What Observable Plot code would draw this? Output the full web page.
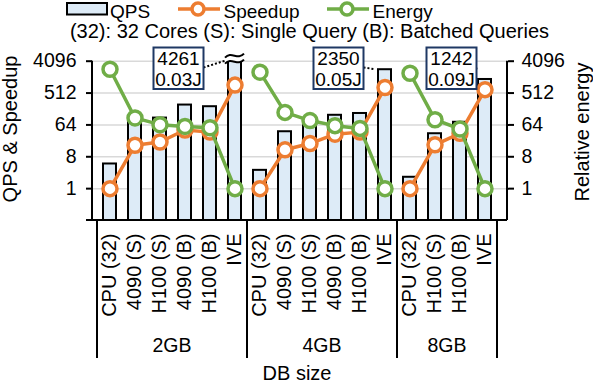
<!DOCTYPE html>
<html><head><meta charset="utf-8">
<script src="https://cdn.jsdelivr.net/npm/d3@7"></script>
<script src="https://cdn.jsdelivr.net/npm/@observablehq/plot@0.6"></script>
<style>
html,body{margin:0;padding:0;background:#fff;}
#chart svg{display:block;}
</style></head><body><div id="chart"></div>
<script>
// ---- data ----
const dbSizes = ["2GB", "4GB", "8GB"];
const configs = [
  ["CPU (32)", "4090 (S)", "H100 (S)", "4090 (B)", "H100 (B)", "IVE"],
  ["CPU (32)", "4090 (S)", "H100 (S)", "4090 (B)", "H100 (B)", "IVE"],
  ["CPU (32)", "H100 (S)", "H100 (B)", "IVE"]
];
const qps = [
  [5, 85, 100, 234, 210, 4261],
  [3.3, 41, 65, 120, 135, 2350],
  [2.1, 36, 76, 1242]
];
const speedup = [
  [1, 17, 21, 46, 40, 860],
  [1, 12.6, 19, 35, 40, 735],
  [1, 17.5, 37, 640]
];
const energy = [
  [2430, 101, 65, 58, 53, 1],
  [2000, 145, 85, 61, 51, 1],
  [1870, 90, 49, 1]
];
const yTicks = [1, 8, 64, 512, 4096];
const annQPS = ["4261", "2350", "1242"];
const annEnergy = ["0.03J", "0.05J", "0.09J"];
const subtitle = "(32): 32 Cores (S): Single Query (B): Batched Queries";

// ---- layout / style ----
const W = 593, H = 386;
const FONT = '"Liberation Sans", Arial, sans-serif';
const ORANGE = "#ed7d31", GREEN = "#70ad47", BARFILL = "#ddebf7", NAVY = "#1f3864";
const annOffset = [-56, -46, -33];

const rows = [];
dbSizes.forEach((g, gi) => configs[gi].forEach((c, ci) => rows.push({
  key: g + "|" + c, group: g, config: c,
  qps: qps[gi][ci], speedup: speedup[gi][ci], energy: energy[gi][ci]
})));
const keys = rows.map(d => d.key);

const chart = Plot.plot({
  width: W, height: H,
  marginTop: 60.7, marginBottom: 166, marginLeft: 92, marginRight: 86,
  style: {fontFamily: FONT, fontSize: "19px", color: "#000", background: "#fff", overflow: "visible"},
  x: {domain: keys, range: [93.3, 501], paddingInner: 0.47, paddingOuter: 0.235, label: null},
  y: {type: "log", base: 2, domain: [0.125, 4096], label: null},
  marks: [
    Plot.gridY(yTicks, {stroke: "#d9d9d9", strokeOpacity: 1, strokeWidth: 1.5}),
    Plot.barY(rows, {x: "key", y1: 0.125, y2: "qps", fill: BARFILL, stroke: "#000", strokeWidth: 2}),
    Plot.line(rows, {x: "key", y: "speedup", z: "group", stroke: ORANGE, strokeWidth: 3.5}),
    Plot.dot(rows, {x: "key", y: "speedup", r: 7, fill: "#fff", stroke: ORANGE, strokeWidth: 3.5}),
    Plot.line(rows, {x: "key", y: "energy", z: "group", stroke: GREEN, strokeWidth: 3.5}),
    Plot.dot(rows, {x: "key", y: "energy", r: 7, fill: "#fff", stroke: GREEN, strokeWidth: 3.5}),
    Plot.axisY(yTicks, {anchor: "left", tickSize: 6, tickPadding: 10, strokeWidth: 2, tickFormat: d => String(d), label: null, fontSize: 19.5}),
    Plot.axisY(yTicks, {anchor: "right", tickSize: 6, tickPadding: 8, strokeWidth: 2, tickFormat: d => String(d), label: null, fontSize: 19.5}),
    Plot.axisX({tickRotate: -90, tickSize: 0, tickPadding: 13, tickFormat: k => k.split("|")[1], label: null, fontSize: 20})
  ]
});

document.getElementById("chart").appendChild(chart);

const svg = d3.select(chart);
const xs = chart.scale("x"), ys = chart.scale("y");
const bw = xs.bandwidth, step = xs.step;
const gap = (step - bw) / 2;
const yBottom = ys.apply(0.125), yTop = ys.apply(4096);
const xLeft = 92, xRight = W - 86;
const g = svg.append("g").attr("font-family", FONT).attr("fill", "#000").attr("text-anchor", "start");

// axis lines
g.append("line").attr("x1", xLeft).attr("x2", xLeft).attr("y1", yTop).attr("y2", yBottom).attr("stroke", "#000").attr("stroke-width", 2);
g.append("line").attr("x1", xRight).attr("x2", xRight).attr("y1", yTop).attr("y2", yBottom).attr("stroke", "#000").attr("stroke-width", 2);
g.append("line").attr("x1", xLeft - 6).attr("x2", xRight).attr("y1", yBottom).attr("y2", yBottom).attr("stroke", "#000").attr("stroke-width", 2);

// group separators and group labels
const sepBottom = 358;
const bounds = [];
dbSizes.forEach((gname, gi) => {
  const first = gname + "|" + configs[gi][0];
  const last = gname + "|" + configs[gi][configs[gi].length - 1];
  const x0 = xs.apply(first) - gap, x1 = xs.apply(last) + bw + gap;
  bounds.push(x0); if (gi === dbSizes.length - 1) bounds.push(x1);
  g.append("text").attr("x", (x0 + x1) / 2).attr("y", 352).attr("text-anchor", "middle").attr("font-size", 19.5).text(gname);
});
bounds.forEach(x => g.append("line").attr("x1", x).attr("x2", x).attr("y1", yBottom).attr("y2", sepBottom).attr("stroke", "#000").attr("stroke-width", 2));
g.append("text").attr("x", (bounds[0] + bounds[bounds.length - 1]) / 2).attr("y", 380).attr("text-anchor", "middle").attr("font-size", 20).text("DB size");

// axis titles
g.append("text").attr("transform", "translate(10,129) rotate(-90)").attr("text-anchor", "middle").attr("dominant-baseline", "central").attr("font-size", 20).text("QPS & Speedup");
g.append("text").attr("transform", "translate(582,132) rotate(-90)").attr("text-anchor", "middle").attr("dominant-baseline", "central").attr("font-size", 20).text("Relative energy");

// break symbol for bars beyond the axis top
rows.filter(d => d.qps > 4096).forEach(d => {
  const x0 = xs.apply(d.key) - 3, x1 = xs.apply(d.key) + bw + 3, w = x1 - x0;
  const yc = yTop - 2;
  const wave = o => `M${x0},${yc + o + 2} C${x0 + w / 3},${yc + o - 5} ${x0 + 2 * w / 3},${yc + o + 5} ${x1},${yc + o - 2}`;
  g.append("path").attr("d", wave(-3) + ` L${x1},${yc + 1} C${x0 + 2 * w / 3},${yc + 8} ${x0 + w / 3},${yc - 2} ${x0},${yc + 5} Z`).attr("fill", "#fff");
  g.append("path").attr("d", wave(-3)).attr("fill", "none").attr("stroke", "#000").attr("stroke-width", 2);
  g.append("path").attr("d", wave(3)).attr("fill", "none").attr("stroke", "#000").attr("stroke-width", 2);
});

// annotation boxes
dbSizes.forEach((gname, gi) => {
  const k = gname + "|IVE";
  const d = rows.find(r => r.key === k);
  const cx = xs.apply(k) + bw / 2 + annOffset[gi];
  const bx0 = cx - 25, by0 = 47.5, bwid = 50, bh = 41.5;
  const barTop = Math.max(ys.apply(Math.min(d.qps, 4096)), yTop);
  g.append("line").attr("x1", bx0 + bwid).attr("y1", by0 + 20).attr("x2", xs.apply(k) - 3).attr("y2", barTop)
    .attr("stroke", "#000").attr("stroke-width", 2).attr("stroke-dasharray", "2,2");
  g.append("rect").attr("x", bx0).attr("y", by0).attr("width", bwid).attr("height", bh).attr("fill", "#fff").attr("stroke", NAVY).attr("stroke-width", 2);
  g.append("text").attr("x", cx).attr("y", by0 + 17.5).attr("text-anchor", "middle").attr("font-size", 19).text(annQPS[gi]);
  g.append("text").attr("x", cx).attr("y", by0 + 38).attr("text-anchor", "middle").attr("font-size", 19).text(annEnergy[gi]);
});

// legend
const lg = g.append("g");
lg.append("rect").attr("x", 67).attr("y", 3).attr("width", 40).attr("height", 11.5).attr("fill", BARFILL).attr("stroke", "#000").attr("stroke-width", 2);
lg.append("text").attr("x", 110).attr("y", 17.5).attr("text-anchor", "start").attr("font-size", 19).text("QPS");
[[178, ORANGE, "Speedup"], [327, GREEN, "Energy"]].forEach(([x, c, t]) => {
  lg.append("line").attr("x1", x).attr("x2", x + 42).attr("y1", 9).attr("y2", 9).attr("stroke", c).attr("stroke-width", 3.5);
  lg.append("circle").attr("cx", x + 20).attr("cy", 9).attr("r", 6).attr("fill", "#fff").attr("stroke", c).attr("stroke-width", 3.5);
  lg.append("text").attr("x", x + 45.5).attr("y", 17.5).attr("text-anchor", "start").attr("font-size", 19).text(t);
});
lg.append("text").attr("x", 309.5).attr("y", 38).attr("text-anchor", "middle").attr("font-size", 20).text(subtitle);
</script>
</body></html>
